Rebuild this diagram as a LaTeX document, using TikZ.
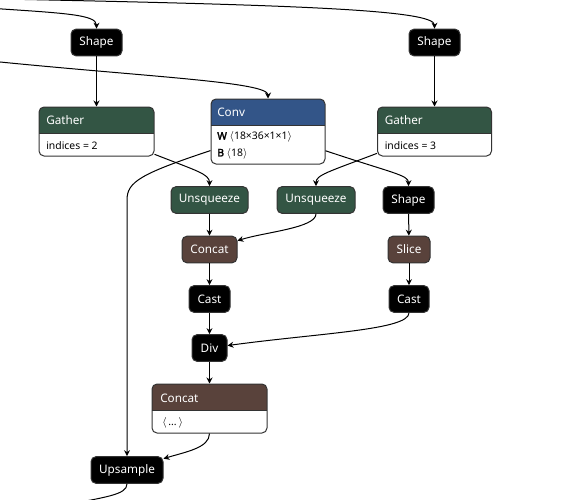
\documentclass[tikz,border=0pt]{standalone}
\usepackage{fontspec}
\setmainfont{Noto Sans}
\newfontfamily\attrbold{Noto Sans}[FakeBold=2.5]
\usetikzlibrary{arrows.meta}
\definecolor{opfill}{RGB}{0,0,0}
\definecolor{transfill}{RGB}{51,85,68}
\definecolor{tensorfill}{RGB}{89,66,59}
\definecolor{layerfill}{RGB}{51,85,136}
\definecolor{nodeline}{RGB}{51,51,51}
\tikzset{opbox/.style={rectangle,draw=nodeline,fill=#1,text=white,rounded corners=3.75pt,
line width=0.75pt,inner sep=0pt,minimum height=20pt,font=\fontsize{8.8}{10}\selectfont},
opbox/.default=opfill}
\tikzset{hdrbox/.style={rectangle,draw=nodeline,fill=white,rounded corners=3.75pt,
line width=0.75pt,inner sep=0pt,
path picture={\fill[#1,sharp corners] (path picture bounding box.north west) rectangle ([yshift=-19.5pt]path picture bounding box.north east);
\draw[nodeline,sharp corners,line width=0.75pt] ([yshift=-19.5pt]path picture bounding box.north west) -- ([yshift=-19.5pt]path picture bounding box.north east);}}}
\tikzset{hdrtext/.style={anchor=west,text=white,inner sep=0pt,font=\fontsize{8.8}{10}\selectfont}}
\tikzset{attrtext/.style={anchor=west,inner sep=0pt,font=\fontsize{7.8}{9}\selectfont}}
\tikzset{link/.style={line width=0.75pt,-{Stealth[length=4.5pt,width=4.5pt,inset=1.5pt]}}}
\tikzset{wire/.style={line width=0.75pt}}

\begin{document}
\begin{tikzpicture}[x=0.75pt,y=-0.75pt]
    \useasboundingbox (0,0) rectangle (575,500);

    \node[opbox, minimum width=38.25pt] (shape1) at (96.5,42.5) {Shape};
    \node[opbox, minimum width=38.25pt] (shape2) at (434.5,42.5) {Shape};

    \node[hdrbox=transfill, minimum width=86.25pt, minimum height=36.75pt] (gather1) at (96.5,131.5) {};
    \node[hdrtext] (gather1t) at (46,120.3) {Gather};
    \node[attrtext] (gather1a) at (46,146) {indices = 2};

    \node[hdrbox=layerfill, minimum width=85.5pt, minimum height=48.75pt] (conv) at (268,131.5) {};
    \node[hdrtext] (convt) at (217,112.7) {Conv};
    \node[attrtext] (convw) at (217,137) {{\attrbold W} $\langle$18×36×1×1$\rangle$};
    \node[attrtext] (convb) at (217,153.7) {{\attrbold B} $\langle$18$\rangle$};

    \node[hdrbox=transfill, minimum width=85.5pt, minimum height=36.75pt] (gather2) at (434.5,131.5) {};
    \node[hdrtext] (gather2t) at (384.5,120.3) {Gather};
    \node[attrtext] (gather2a) at (384.5,146) {indices = 3};

    \node[opbox=transfill, minimum width=57.75pt] (unsq1) at (209.5,200) {Unsqueeze};
    \node[opbox=transfill, minimum width=58.5pt] (unsq2) at (316,200) {Unsqueeze};
    \node[opbox, minimum width=38.25pt] (shape3) at (408.5,200) {Shape};

    \node[opbox=tensorfill, minimum width=41.25pt] (concat1) at (209.5,249.5) {Concat};
    \node[opbox=tensorfill, minimum width=31.5pt] (slice) at (409,249.5) {Slice};

    \node[opbox, minimum width=30.75pt] (cast1) at (209.5,299) {Cast};
    \node[opbox, minimum width=30pt] (cast2) at (409,299) {Cast};
    \node[opbox, minimum width=26.25pt] (div) at (209.5,348) {Div};

    \node[hdrbox=tensorfill, minimum width=86.25pt, minimum height=36.75pt] (concat2) at (209.5,408.5) {};
    \node[hdrtext] (concat2t) at (160,398.5) {Concat};
    \node[attrtext] (concat2a) at (162,423) {$\langle$\,...\,$\rangle$};

    \node[opbox, minimum width=54pt] (upsample) at (127,470) {Upsample};

    % graph inputs and output off the page
    \coordinate (in1) at (-20,7.5);
    \coordinate (in2) at (0,-1);
    \coordinate (in3) at (-5,61.5);
    \coordinate (upout) at (60,506);

    \draw[link] (in1) .. controls (60,13) and (96.5,14) .. (shape1);
    \draw[link] (in2) .. controls (300,5) and (434.5,10) .. (shape2);
    \draw[link] (in3) .. controls (150,77) and (268,82) .. (conv);

    \draw[link] (shape1) -- (gather1);
    \draw[link] (shape2) -- (gather2);

    \draw[link] (gather1) .. controls (197,171) and (209.5,174) .. (unsq1);
    \draw[link] (gather2) .. controls (328,172) and (316,175) .. (unsq2);
    \draw[link] (conv) .. controls (392,173) and (408.5,175) .. (shape3);
    \draw[link] (conv) .. controls (140,174) and (127,182) .. (127,200) -- (upsample);

    \draw[link] (unsq1) -- (concat1);
    \draw[link] (unsq2) .. controls (316,228) and (265,232) .. (concat1);
    \draw[link] (concat1) -- (cast1);
    \draw[link] (cast1) -- (div);
    \draw[link] (shape3) -- (slice);
    \draw[link] (slice) -- (cast2);
    \draw[link] (cast2) .. controls (409,330) and (320,333) .. (div);
    \draw[link] (div) -- (concat2);
    \draw[link] (concat2) .. controls (209.5,448) and (185,452) .. (upsample);
    \draw[wire] (upsample) .. controls (127,495) and (105,497) .. (upout);

\end{tikzpicture}
\end{document}
